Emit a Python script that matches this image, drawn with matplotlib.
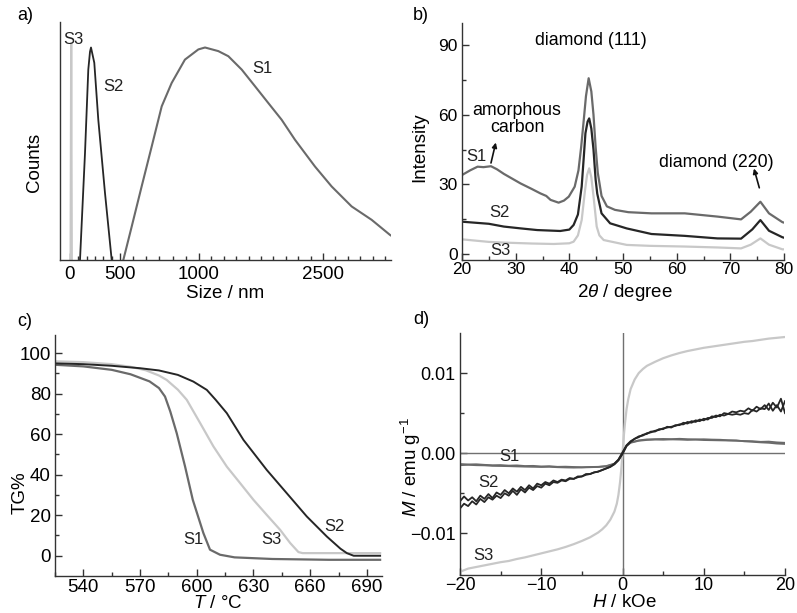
import numpy as np
import matplotlib
matplotlib.use('Agg')
import matplotlib.pyplot as plt
from matplotlib.ticker import FixedLocator, MultipleLocator

plt.rcParams['font.family'] = ['Liberation Sans', 'DejaVu Sans']
plt.rcParams['mathtext.fontset'] = 'custom'
plt.rcParams['mathtext.rm'] = 'Liberation Sans'
plt.rcParams['mathtext.it'] = 'Liberation Sans:italic'
plt.rcParams['axes.unicode_minus'] = True

# ---------------- data: (a) size distribution ----------------
size_s1 = [521, 574, 637, 701, 764, 827, 911, 996, 1073, 1234, 1355, 1517, 1677, 1838, 2000, 2161, 2403, 2605, 2847, 3089, 3311, 3323]
counts_s1 = [0, 15.7, 34.6, 53.5, 72.3, 83.3, 94.3, 99.1, 100, 98.3, 95.9, 89.6, 81.8, 73.9, 66, 56.6, 44, 34.6, 25.2, 18.9, 11.8, 11.5]
size_s2 = [100, 150, 183, 200, 210, 243, 283, 350, 417]
counts_s2 = [0, 50.3, 89.6, 98, 100, 92.8, 66, 31.5, 0]
size_s3 = [6, 12, 18]
counts_s3 = [0, 102, 0]
size_ticks = [0, 500, 1000, 2500]

# ---------------- data: (b) XRD ----------------
tt_s1 = [20, 21.5, 22.9, 24, 25.4, 26.5, 27.8, 30.9, 33, 34.6, 35.7, 36.5, 38, 39, 39.9, 41.0, 41.7, 42.2, 42.7, 43.1, 43.6,
         44.1, 44.5, 44.9, 45.3, 46.0, 47.0, 48.5, 51, 55.3, 61.5, 67.6, 72, 73.8, 75.6, 77.2, 79.7, 80]
int_s1 = [34, 36, 37.6, 37.4, 37.8, 36.5, 34.5, 30.4, 28, 26.1, 25, 23.3, 22.1, 23, 24.7, 29, 36, 46, 58, 68, 75.7,
          70, 60, 46, 35, 25, 20.5, 19, 18, 17.5, 17.5, 16.1, 14.9, 18.2, 22.5, 17.5, 13.7, 13.5]
tt_s2 = [20, 25, 27.8, 31, 34, 38.3, 40, 40.8, 41.6, 42.3, 42.7, 43.0, 43.4, 43.7, 44.1, 44.5, 44.9, 45.2, 46,
         47.6, 50.7, 55.3, 61.5, 67.6, 72, 74.1, 75.6, 77.2, 79.7, 80]
int_s2 = [13.9, 13, 11.8, 11, 10.3, 9.9, 10.5, 12.5, 17, 29, 42, 52, 57, 58.4, 54, 45, 32, 26, 17.5,
          13.2, 11, 8.6, 7.8, 6.7, 6.6, 10.6, 14.6, 10, 7.2, 7]
tt_s3 = [20, 25, 27.8, 33, 37.1, 40, 40.8, 41.6, 42.3, 42.9, 43.3, 43.7, 44.1, 44.5, 45.1, 45.6, 46.4, 50.7, 55,
         61.5, 67.6, 72, 73.8, 75.6, 77.2, 79.7, 80]
int_s3 = [6.3, 5.2, 4.9, 4.5, 4.3, 4.6, 5.3, 8, 14.6, 27, 34, 36.9, 33, 25, 11.8, 8, 6, 3.9, 3.5,
          3.2, 2.8, 2.4, 4, 6.7, 4, 2, 2]

# ---------------- data: (c) TGA ----------------
T_s1 = [525, 540, 555, 565, 575, 580, 583.2, 586, 589.4, 593.8, 597.9, 603.5, 607, 612.3, 620, 640, 670, 697]
tg_s1 = [94.3, 93.5, 91.8, 89.6, 86.1, 82.8, 78.6, 71.2, 60.5, 44.1, 27.6, 11.2, 3, 0.5, -0.8, -1.6, -2, -2]
T_s3 = [525, 540, 555, 565, 573, 580, 584.1, 590, 594.7, 601.8, 608.8, 615.9, 622.9, 630, 637, 644.1, 649.4,
        653.8, 656, 670, 697]
tg_s3 = [96, 95.6, 94.6, 93.3, 91.6, 89, 86.8, 82, 77, 65.5, 54, 44, 35.9, 27.6, 20.2, 12.8, 6.3,
         1.8, 1.3, 1.3, 1.3]
T_s2 = [525, 540, 555, 570, 580, 590, 598.2, 605.3, 610, 615.9, 624.7, 637, 647.6, 658.2, 668.8, 676, 679.4, 683, 697]
tg_s2 = [95, 94.6, 93.8, 92.6, 91.5, 89.3, 86, 81.9, 77, 70.4, 57.2, 42.4, 30.9, 19.4, 9.5, 3.5, 1.3, 0, 0]

# ---------------- data: (d) magnetization (M in 1e-3 emu/g) ----------------
H_s2 = [-20, -19.5, -19, -18.5, -18, -17.5, -17, -16.5, -16, -15.5, -15, -14.5, -14, -13.5, -13, -12.5, -12,
        -11.5, -11, -10.5, -10, -9.5, -9, -8.5, -8, -7.5, -7, -6.5, -6, -5.5, -5, -4.5, -4, -3.5, -3, -2.5,
        -2, -1.5, -1, -0.5, 0, 0.5, 1, 1.5, 2, 2.5, 3, 3.5, 4, 4.5, 5, 5.5, 6, 6.5, 7, 7.5, 8, 8.5, 9, 9.5,
        10, 10.5, 11, 11.5, 12, 12.5, 13, 13.5, 14, 14.5, 15, 15.5, 16, 16.5, 17, 17.5, 18, 18.5, 19, 19.5, 20]
M_s2_a = [-6.0, -5.4, -5.9, -5.5, -6.0, -5.3, -5.7, -5.1, -5.6, -4.9, -5.2, -4.6, -5.0, -4.4, -4.8, -4.2, -4.6,
          -4.0, -4.4, -3.8, -4.0, -3.6, -3.8, -3.4, -3.6, -3.3, -3.4, -3.1, -3.2, -2.9, -2.9, -2.6, -2.6, -2.4,
          -2.3, -2.1, -1.9, -1.7, -1.4, -0.9, -0.1, 0.9, 1.4, 1.8, 2.0, 2.3, 2.4, 2.7, 2.7, 3.0, 3.0, 3.3, 3.2,
          3.5, 3.5, 3.8, 3.7, 4.0, 3.9, 4.2, 4.1, 4.4, 4.4, 4.7, 4.6, 5.0, 4.9, 5.2, 5.1, 5.3, 5.2, 5.6, 5.3,
          5.8, 5.5, 6.0, 5.4, 6.3, 5.7, 6.8, 5.0]
M_s2_b = [-6.9, -6.3, -6.6, -6.0, -6.4, -5.7, -6.1, -5.5, -5.8, -5.3, -5.6, -5.0, -5.3, -4.7, -5.2, -4.5, -4.9,
          -4.3, -4.6, -4.1, -4.3, -3.8, -4.0, -3.6, -3.7, -3.4, -3.5, -3.2, -3.2, -3.0, -2.9, -2.7, -2.6, -2.4,
          -2.3, -2.1, -1.9, -1.7, -1.3, -0.8, 0.1, 1.0, 1.5, 1.8, 2.1, 2.2, 2.5, 2.6, 2.8, 2.9, 3.1, 3.2, 3.3,
          3.4, 3.6, 3.6, 3.9, 3.8, 4.1, 4.0, 4.3, 4.2, 4.6, 4.5, 4.8, 4.7, 4.9, 4.8, 4.9, 4.8, 5.0, 4.9, 5.4,
          5.2, 5.6, 5.5, 6.2, 5.3, 6.0, 5.2, 6.5]
H_s1 = [-20, -19, -18, -17, -16, -15, -14, -13, -12, -11, -10, -9, -8, -7, -6, -5, -4, -3, -2, -1, -0.5, 0,
        0.5, 1, 2, 3, 4, 5, 6, 7, 8, 9, 10, 11, 12, 13, 14, 15, 16, 17, 18, 19, 20]
M_s1_a = [-1.35, -1.4, -1.38, -1.45, -1.5, -1.48, -1.55, -1.52, -1.6, -1.58, -1.65, -1.62, -1.7, -1.68, -1.72,
          -1.75, -1.72, -1.7, -1.6, -1.3, -0.85, -0.05, 0.9, 1.3, 1.55, 1.65, 1.7, 1.68, 1.72, 1.7, 1.66, 1.7,
          1.64, 1.62, 1.6, 1.58, 1.55, 1.52, 1.5, 1.42, 1.45, 1.35, 1.3]
M_s1_b = [-1.5, -1.45, -1.5, -1.52, -1.58, -1.6, -1.62, -1.65, -1.68, -1.7, -1.72, -1.7, -1.75, -1.78, -1.8,
          -1.78, -1.75, -1.72, -1.65, -1.35, -0.8, 0.05, 0.95, 1.35, 1.6, 1.72, 1.75, 1.78, 1.75, 1.8, 1.75,
          1.72, 1.74, 1.7, 1.68, 1.62, 1.6, 1.48, 1.42, 1.35, 1.3, 1.2, 1.15]
H_s3 = [-20, -19, -18, -17, -16, -15, -14, -13, -12, -11, -10, -9, -8, -7, -6, -5, -4, -3, -2.5, -2, -1.5, -1,
        -0.7, -0.5, -0.3, -0.15, 0, 0.15, 0.3, 0.5, 0.7, 1, 1.5, 2, 2.5, 3, 4, 5, 6, 7, 8, 9, 10, 11, 12, 13,
        14, 15, 16, 17, 18, 19, 20]
M_s3 = [-14.8, -14.4, -14.2, -14.0, -13.8, -13.6, -13.45, -13.2, -13.0, -12.75, -12.5, -12.25, -12.0, -11.7,
        -11.35, -10.95, -10.5, -9.9, -9.5, -9.0, -8.3, -7.3, -6.3, -5.2, -3.6, -2.0, 0, 2.0, 3.7, 5.5, 6.7,
        8.0, 9.2, 10.0, 10.5, 10.9, 11.4, 11.85, 12.2, 12.5, 12.75, 12.95, 13.15, 13.3, 13.45, 13.6, 13.75,
        13.9, 14.0, 14.15, 14.3, 14.4, 14.5]

C1, C2, C3 = '#6a6a6a', '#262626', '#c8c8c8'
SPINE = '#333333'
LAB_FS = 13.5
ANN_FS = 12.8
S_FS = 12

W, Hh = 797, 613
fig = plt.figure(figsize=(W / 100, Hh / 100), dpi=100)


def box(l, t, r, b):
    return [l / W, 1 - b / Hh, (r - l) / W, (b - t) / Hh]


def style(ax, fs, xpad):
    for s in ['top', 'right']:
        ax.spines[s].set_visible(False)
    for s in ['left', 'bottom']:
        ax.spines[s].set_color(SPINE)
        ax.spines[s].set_linewidth(1.0)
    ax.tick_params(which='major', direction='in', length=5, width=1, color=SPINE,
                   labelsize=fs, pad=3)
    ax.tick_params(which='minor', direction='in', length=3, width=1, color=SPINE)
    ax.tick_params(axis='x', which='major', pad=xpad)


def place_labels(ax, xl, yl):
    ax.xaxis.label.set_va('center')
    ax.yaxis.label.set_va('center')
    ax.xaxis.set_label_coords(*xl)
    ax.yaxis.set_label_coords(*yl)


# ---------------- (a) ----------------
axa = fig.add_axes(box(60, 22, 391, 260))
knots_nm = [-1000, 0, 500, 1000, 2500, 6000]
knots_pos = [-100, 0, 50, 129, 253, 253 + 3500 * 124 / 1500]
axa.set_xscale('function', functions=(lambda x: np.interp(x, knots_nm, knots_pos),
                                      lambda y: np.interp(y, knots_pos, knots_nm)))
axa.plot(size_s3, counts_s3, color=C3, lw=1.6)
axa.plot(size_s2, counts_s2, color=C2, lw=1.3)
axa.plot(size_s1, counts_s1, color=C1, lw=1.5)
axa.set_xlim(-100, 3323)
axa.set_ylim(0, 112)
style(axa, 13.5, 4)
axa.xaxis.set_major_locator(FixedLocator(size_ticks))
axa.set_xticklabels([str(v) for v in size_ticks])
minors = [83.3 * k for k in range(1, 6)] + [500 + 83.3 * k for k in range(1, 6)] + \
         [1000 + 150 * k for k in range(1, 10)] + [2500 + 150 * k for k in range(1, 6)]
axa.xaxis.set_minor_locator(FixedLocator(minors))
axa.set_yticks([])
axa.set_xlabel('Size / nm', fontsize=LAB_FS)
axa.set_ylabel('Counts', fontsize=LAB_FS)
place_labels(axa, (0.4985, -0.139), (-0.0785, 0.41))
axa.text(30, 104, 'S3', fontsize=S_FS, ha='center', va='center', color='#222')
axa.text(430, 81.6, 'S2', fontsize=S_FS, ha='center', va='center', color='#222')
axa.text(1762, 90, 'S1', fontsize=S_FS, ha='center', va='center', color='#222')
fig.text(25 / W, 1 - 15 / Hh, 'a)', fontsize=13, ha='center', va='center')

# ---------------- (b) ----------------
axb = fig.add_axes(box(462, 23, 784, 260))
axb.plot(tt_s1, int_s1, color=C1, lw=1.6)
axb.plot(tt_s2, int_s2, color=C2, lw=1.6)
axb.plot(tt_s3, int_s3, color=C3, lw=1.6)
axb.set_xlim(20, 80)
axb.set_ylim(-2.6, 99.5)
style(axb, 12.5, 1.5)
axb.xaxis.set_major_locator(MultipleLocator(10))
axb.xaxis.set_minor_locator(MultipleLocator(5))
axb.yaxis.set_major_locator(FixedLocator([0, 30, 60, 90]))
axb.yaxis.set_minor_locator(FixedLocator([15, 45, 75]))
axb.set_xlabel(r'2$\mathit{\theta}$ / degree', fontsize=LAB_FS)
axb.set_ylabel('Intensity', fontsize=LAB_FS)
place_labels(axb, (0.506, -0.139), (-0.130, 0.477))
axb.text(44.1, 92, 'diamond (111)', fontsize=ANN_FS, ha='center', va='center')
axb.text(30.1, 62, 'amorphous', fontsize=ANN_FS, ha='center', va='center')
axb.text(30.4, 54.3, 'carbon', fontsize=ANN_FS, ha='center', va='center')
axb.text(67.3, 39.6, 'diamond (220)', fontsize=ANN_FS, ha='center', va='center')
axb.annotate('', xy=(26.3, 48), xytext=(25.4, 39.2),
             arrowprops=dict(arrowstyle='-|>', color='#111', lw=1.2, mutation_scale=7, shrinkA=0, shrinkB=0))
axb.annotate('', xy=(74.4, 36.8), xytext=(75.4, 28.5),
             arrowprops=dict(arrowstyle='-|>', color='#111', lw=1.2, mutation_scale=7, shrinkA=0, shrinkB=0))
axb.text(22.6, 41.8, 'S1', fontsize=S_FS, ha='center', va='center', color='#222')
axb.text(26.9, 17.7, 'S2', fontsize=S_FS, ha='center', va='center', color='#222')
axb.text(27.2, 1.4, 'S3', fontsize=S_FS, ha='center', va='center', color='#222')
fig.text(421 / W, 1 - 15 / Hh, 'b)', fontsize=13, ha='center', va='center')

# ---------------- (c) ----------------
axc = fig.add_axes(box(55, 335, 382, 576))
axc.plot(T_s1, tg_s1, color=C1, lw=1.6)
axc.plot(T_s3, tg_s3, color=C3, lw=1.6)
axc.plot(T_s2, tg_s2, color=C2, lw=1.4)
axc.set_xlim(525, 698)
axc.set_ylim(-10, 109)
style(axc, 13.5, 2)
axc.xaxis.set_major_locator(MultipleLocator(30))
axc.xaxis.set_minor_locator(MultipleLocator(15))
axc.yaxis.set_major_locator(FixedLocator([0, 20, 40, 60, 80, 100]))
axc.yaxis.set_minor_locator(FixedLocator([10, 30, 50, 70, 90]))
axc.set_xlabel(r'$\mathit{T}$ / °C', fontsize=LAB_FS)
axc.set_ylabel('TG%', fontsize=LAB_FS)
place_labels(axc, (0.498, -0.113), (-0.107, 0.344))
axc.text(598, 8, 'S1', fontsize=S_FS, ha='center', va='center', color='#222')
axc.text(639.7, 8.2, 'S3', fontsize=S_FS, ha='center', va='center', color='#222')
axc.text(673, 14.5, 'S2', fontsize=S_FS, ha='center', va='center', color='#222')
fig.text(25 / W, 1 - 322 / Hh, 'c)', fontsize=13, ha='center', va='center')

# ---------------- (d) ----------------
axd = fig.add_axes(box(460, 333, 785, 575))
axd.axhline(0, color='#707070', lw=1.0)
axd.axvline(0, color='#707070', lw=1.0)
sc = 1e-3
axd.plot(H_s3, np.array(M_s3) * sc, color=C3, lw=1.6)
axd.plot(H_s1, np.array(M_s1_a) * sc, color=C1, lw=1.3)
axd.plot(H_s1, np.array(M_s1_b) * sc, color=C1, lw=1.3)
axd.plot(H_s2, np.array(M_s2_a) * sc, color=C2, lw=1.3)
axd.plot(H_s2, np.array(M_s2_b) * sc, color=C2, lw=1.3)
axd.set_xlim(-20, 20)
axd.set_ylim(-0.0152, 0.015)
style(axd, 13, 1.5)
axd.xaxis.set_major_locator(FixedLocator([-20, -10, 0, 10, 20]))
axd.xaxis.set_minor_locator(MultipleLocator(5))
axd.set_xticklabels(['\u221220', '\u221210', '0', '10', '20'])
axd.yaxis.set_major_locator(FixedLocator([-0.01, 0.0, 0.01]))
axd.yaxis.set_minor_locator(FixedLocator([-0.005, 0.005]))
axd.set_yticklabels(['\u22120.01', '0.00', '0.01'])
axd.set_xlabel(r'$\mathit{H}$ / kOe', fontsize=LAB_FS)
axd.set_ylabel(r'$\mathit{M}$ / emu g$^{-1}$', fontsize=LAB_FS)
place_labels(axd, (0.506, -0.115), (-0.150, 0.446))
axd.text(-13.9, -0.0004, 'S1', fontsize=S_FS, ha='center', va='center', color='#222')
axd.text(-16.5, -0.0037, 'S2', fontsize=S_FS, ha='center', va='center', color='#222')
axd.text(-17.1, -0.0128, 'S3', fontsize=S_FS, ha='center', va='center', color='#222')
fig.text(421 / W, 1 - 320 / Hh, 'd)', fontsize=13, ha='center', va='center')

fig.savefig('out.png', dpi=100)
